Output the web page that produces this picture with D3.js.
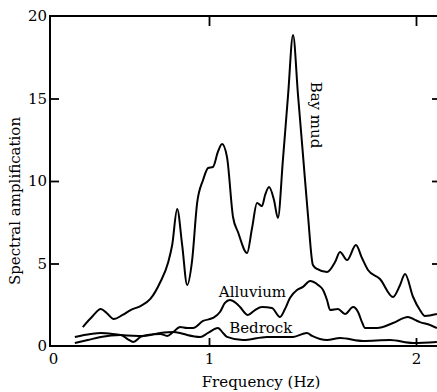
<!DOCTYPE html>
<html>
<head>
<meta charset="utf-8">
<script src="https://cdn.jsdelivr.net/npm/d3@7"></script>
<style>
  html, body { margin: 0; padding: 0; background: #fff; }
  svg { display: block; }
  text { font-family: "DejaVu Serif", "Liberation Serif", serif; fill: #000; }
</style>
</head>
<body>
<script>
// ---- data (frequency in Hz, spectral amplification) ----
const bayMudFreq = [0.191,0.255,0.306,0.344,0.389,0.446,0.497,0.561,0.624,0.688,0.739,0.764,0.796,0.828,0.860,0.892,0.924,0.962,0.994,1.019,1.043,1.063,1.087,1.116,1.140,1.184,1.208,1.232,1.256,1.271,1.290,1.314,1.333,1.357,1.382,1.406,1.430,1.454,1.478,1.502,1.522,1.570,1.609,1.633,1.667,1.710,1.739,1.768,1.826,1.889,1.923,1.947,1.986,2.019,2.043,2.101];
const bayMudAmp  = [1.15,1.82,2.24,2.0,1.64,1.88,2.18,2.42,2.85,3.88,5.09,6.12,8.30,6.12,3.70,5.21,8.67,10.06,10.79,10.85,11.76,12.24,11.45,7.82,6.91,5.64,7.15,8.67,8.48,9.15,9.64,8.85,7.76,11.27,15.21,18.85,15.21,11.58,7.94,4.91,4.67,4.48,5.09,5.70,5.21,6.12,5.33,4.61,4.06,2.97,3.70,4.36,2.97,2.18,1.82,1.94];

const alluviumFreq = [0.140,0.223,0.306,0.433,0.478,0.516,0.561,0.605,0.688,0.732,0.771,0.815,0.860,0.898,0.962,1.019,1.053,1.077,1.101,1.130,1.150,1.188,1.222,1.256,1.304,1.343,1.367,1.391,1.425,1.454,1.488,1.527,1.551,1.570,1.585,1.623,1.657,1.696,1.720,1.739,1.754,1.812,1.889,1.961,1.995,2.019,2.068,2.101];
const alluviumAmp  = [0.18,0.36,0.55,0.67,0.42,0.24,0.55,0.67,0.73,0.61,0.85,1.15,1.09,1.09,1.52,1.70,2.06,2.61,2.79,2.61,2.36,1.88,2.18,2.36,2.30,1.76,2.24,2.91,3.39,3.58,3.94,3.70,3.39,2.79,2.18,2.24,1.94,2.36,2.06,1.45,1.09,1.09,1.39,1.76,1.58,1.45,1.27,1.09];

const bedrockFreq = [0.140,0.242,0.306,0.433,0.580,0.688,0.771,0.815,0.860,0.943,0.994,1.043,1.068,1.087,1.164,1.280,1.406,1.473,1.498,1.570,1.633,1.744,1.874,1.986,2.101];
const bedrockAmp  = [0.55,0.73,0.79,0.67,0.61,0.79,0.85,0.79,0.67,0.55,0.79,1.09,0.79,0.55,0.36,0.55,0.55,0.79,0.61,0.36,0.48,0.30,0.36,0.18,0.24];

const xTickValues = [0, 1, 2];
const yTickValues = [0, 5, 10, 15, 20];
const innerTicks = [5, 10, 15];

const W = 437, H = 392;
const mLeft = 50, mTop = 16, mBottom = 346, mRight = 438;

const svg = d3.select("body").append("svg").attr("width", W).attr("height", H);

const x = d3.scaleLinear().domain([0, 1, 2]).range([53, 209, 416]);
const y = d3.scaleLinear().domain([0, 20]).range([mBottom, mTop]);

// clip
svg.append("clipPath").attr("id", "clip").append("rect")
  .attr("x", mLeft).attr("y", mTop).attr("width", mRight - mLeft).attr("height", mBottom - mTop);

// left axis with labels, inward ticks
const gl = svg.append("g").attr("transform", `translate(${mLeft},0)`)
  .call(d3.axisLeft(y).tickValues(yTickValues).tickSizeInner(-9).tickSizeOuter(0).tickPadding(3).tickFormat(d3.format("d")));
gl.selectAll(".tick").filter(d => d === 0 || d === 20).select("line").remove();

// right axis ticks only
svg.append("g").attr("transform", `translate(${mRight},0)`)
  .call(d3.axisRight(y).tickValues(innerTicks).tickSizeInner(-6).tickSizeOuter(0).tickFormat(""));

// bottom axis with labels
const gb = svg.append("g").attr("transform", `translate(0,${mBottom})`)
  .call(d3.axisBottom(x).tickValues(xTickValues).tickSizeInner(-8).tickSizeOuter(0).tickPadding(7).tickFormat(d3.format("d")));
gb.selectAll(".tick").filter(d => d === 0).select("line").remove();

// top axis ticks only
svg.append("g").attr("transform", `translate(0,${mTop})`)
  .call(d3.axisTop(x).tickValues([1, 2]).tickSizeInner(-10).tickSizeOuter(0).tickFormat(""));

svg.selectAll(".domain").remove();
svg.selectAll(".tick line").attr("stroke", "#000").attr("stroke-width", 1.8);
svg.selectAll(".tick text").attr("font-size", 15).attr("font-family", "DejaVu Serif").attr("fill", "#000");

// frame
svg.append("rect").attr("x", mLeft).attr("y", mTop).attr("width", mRight - mLeft).attr("height", mBottom - mTop)
  .attr("fill", "none").attr("stroke", "#000").attr("stroke-width", 2);

// curves
const line = d3.line().x(d => x(d[0])).y(d => y(d[1])).curve(d3.curveMonotoneX);
const series = [
  [bayMudFreq, bayMudAmp],
  [alluviumFreq, alluviumAmp],
  [bedrockFreq, bedrockAmp]
];
svg.append("g").attr("clip-path", "url(#clip)").selectAll("path").data(series).join("path")
  .attr("d", s => line(d3.zip(s[0], s[1])))
  .attr("fill", "none").attr("stroke", "#000").attr("stroke-width", 2).attr("stroke-linejoin", "round");

// series labels
svg.append("text").attr("transform", `translate(${x(1.45) + 14},${y(14)}) rotate(90)`)
  .attr("text-anchor", "middle").attr("dy", "0.35em").attr("font-size", 15).text("Bay mud");
svg.append("text").attr("x", x(1.21)).attr("y", 297).attr("text-anchor", "middle").attr("font-size", 15).text("Alluvium");
svg.append("text").attr("x", x(1.25)).attr("y", 333).attr("text-anchor", "middle").attr("font-size", 15).text("Bedrock");

// axis titles
svg.append("text").attr("x", 261).attr("y", 387).attr("text-anchor", "middle").attr("font-size", 15).text("Frequency (Hz)");
svg.append("text").attr("transform", "translate(20,201) rotate(-90)").attr("text-anchor", "middle")
  .attr("font-size", 15).text("Spectral amplification");
</script>
</body>
</html>
